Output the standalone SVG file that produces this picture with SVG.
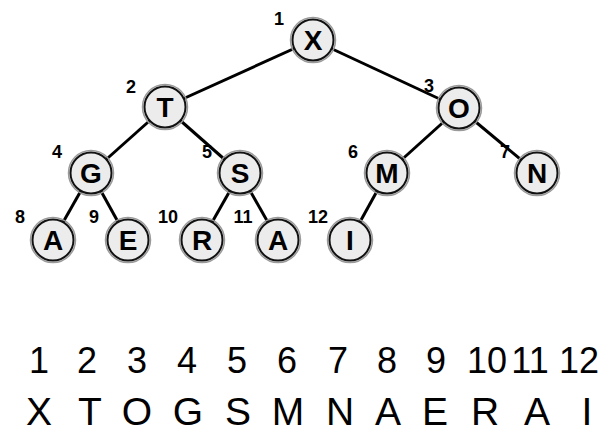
<svg xmlns="http://www.w3.org/2000/svg" width="611" height="433" viewBox="0 0 611 433">
<style>
.edge{stroke:#000;stroke-width:3;fill:none}
.ring{fill:none;stroke:#9a9a9a;stroke-width:1.5}
.node{fill:#ececec;stroke:#111;stroke-width:2}
.lt{font-family:"Liberation Sans",Arial,sans-serif;font-weight:bold;font-size:28px;text-anchor:middle;fill:#000}
.ix{font-family:"Liberation Sans",Arial,sans-serif;font-weight:bold;font-size:18px;text-anchor:middle;fill:#000}
.row{font-family:"Liberation Sans",Arial,sans-serif;font-size:36px;text-anchor:middle;fill:#000}
.row2{font-family:"Liberation Sans",Arial,sans-serif;font-size:39px;text-anchor:middle;fill:#000}
</style>
<rect width="611" height="433" fill="#fff"/>
<g id="connectors">
<line class="edge" x1="313" y1="40" x2="165" y2="107"/>
<line class="edge" x1="313" y1="40" x2="459" y2="108"/>
<line class="edge" x1="165" y1="107" x2="91" y2="173"/>
<line class="edge" x1="165" y1="107" x2="240" y2="173"/>
<line class="edge" x1="459" y1="108" x2="387" y2="173"/>
<line class="edge" x1="459" y1="108" x2="537" y2="173"/>
<line class="edge" x1="91" y1="173" x2="53" y2="240"/>
<line class="edge" x1="91" y1="173" x2="128" y2="240"/>
<line class="edge" x1="240" y1="173" x2="202" y2="240"/>
<line class="edge" x1="240" y1="173" x2="278" y2="240"/>
<line class="edge" x1="387" y1="173" x2="350" y2="240"/>
</g>
<g id="n1"><circle class="ring" cx="313" cy="40" r="22.5"/><circle class="node" cx="313" cy="40" r="20.5"/><text class="lt" x="313" y="50">X</text><text class="ix" x="279" y="25">1</text></g>
<g id="n2"><circle class="ring" cx="165" cy="107" r="22.5"/><circle class="node" cx="165" cy="107" r="20.5"/><text class="lt" x="165" y="117">T</text><text class="ix" x="131" y="93">2</text></g>
<g id="n3"><circle class="ring" cx="459" cy="108" r="22.5"/><circle class="node" cx="459" cy="108" r="20.5"/><text class="lt" x="459" y="118">O</text><text class="ix" x="429" y="92">3</text></g>
<g id="n4"><circle class="ring" cx="91" cy="173" r="22.5"/><circle class="node" cx="91" cy="173" r="20.5"/><text class="lt" x="91" y="183">G</text><text class="ix" x="57" y="158">4</text></g>
<g id="n5"><circle class="ring" cx="240" cy="173" r="22.5"/><circle class="node" cx="240" cy="173" r="20.5"/><text class="lt" x="240" y="183">S</text><text class="ix" x="207" y="158">5</text></g>
<g id="n6"><circle class="ring" cx="387" cy="173" r="22.5"/><circle class="node" cx="387" cy="173" r="20.5"/><text class="lt" x="387" y="183">M</text><text class="ix" x="353" y="158">6</text></g>
<g id="n7"><circle class="ring" cx="537" cy="173" r="22.5"/><circle class="node" cx="537" cy="173" r="20.5"/><text class="lt" x="537" y="183">N</text><text class="ix" x="505" y="158">7</text></g>
<g id="n8"><circle class="ring" cx="53" cy="240" r="22.5"/><circle class="node" cx="53" cy="240" r="20.5"/><text class="lt" x="53" y="250">A</text><text class="ix" x="20" y="223">8</text></g>
<g id="n9"><circle class="ring" cx="128" cy="240" r="22.5"/><circle class="node" cx="128" cy="240" r="20.5"/><text class="lt" x="128" y="250">E</text><text class="ix" x="94" y="223">9</text></g>
<g id="n10"><circle class="ring" cx="202" cy="240" r="22.5"/><circle class="node" cx="202" cy="240" r="20.5"/><text class="lt" x="202" y="250">R</text><text class="ix" x="168" y="223">10</text></g>
<g id="n11"><circle class="ring" cx="278" cy="240" r="22.5"/><circle class="node" cx="278" cy="240" r="20.5"/><text class="lt" x="278" y="250">A</text><text class="ix" x="243" y="223">11</text></g>
<g id="n12"><circle class="ring" cx="350" cy="240" r="22.5"/><circle class="node" cx="350" cy="240" r="20.5"/><text class="lt" x="350" y="250">I</text><text class="ix" x="318" y="223">12</text></g>
<g id="array-index">
<text class="row" x="39" y="373">1</text>
<text class="row" x="87" y="373">2</text>
<text class="row" x="137" y="373">3</text>
<text class="row" x="187" y="373">4</text>
<text class="row" x="237" y="373">5</text>
<text class="row" x="287" y="373">6</text>
<text class="row" x="338" y="373">7</text>
<text class="row" x="387" y="373">8</text>
<text class="row" x="436" y="373">9</text>
<text class="row" x="487" y="373">10</text>
<text class="row" x="530" y="373">11</text>
<text class="row" x="579" y="373">12</text>
</g>
<g id="array-values">
<text class="row2" x="39" y="425">X</text>
<text class="row2" x="90" y="425">T</text>
<text class="row2" x="137" y="425">O</text>
<text class="row2" x="188" y="425">G</text>
<text class="row2" x="238" y="425">S</text>
<text class="row2" x="288" y="425">M</text>
<text class="row2" x="340" y="425">N</text>
<text class="row2" x="388" y="425">A</text>
<text class="row2" x="435" y="425">E</text>
<text class="row2" x="485" y="425">R</text>
<text class="row2" x="537" y="425">A</text>
<text class="row2" x="587" y="425">I</text>
</g>
</svg>
